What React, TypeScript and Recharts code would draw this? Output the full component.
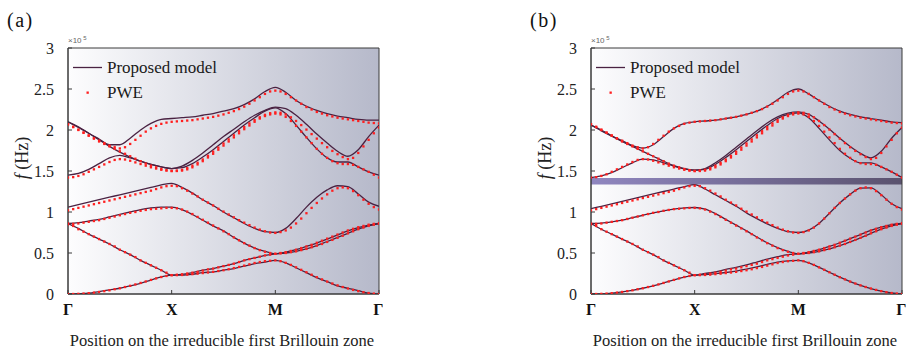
import React from 'react';
import { LineChart, Line, XAxis, YAxis, ReferenceArea, Legend } from 'recharts';

// k-path grids (Γ=0, X=1, M=2, Γ=3)
const K10 = [0, 0.1, 0.2, 0.3, 0.4, 0.5, 0.6, 0.7, 0.8, 0.9, 1.0, 1.1, 1.2, 1.3, 1.4, 1.5, 1.6, 1.7, 1.8, 1.9, 2.0, 2.1, 2.2, 2.3, 2.4, 2.5, 2.6, 2.7, 2.8, 2.9, 3.0];
const K05 = [0, 0.05, 0.1, 0.15, 0.2, 0.25, 0.3, 0.35, 0.4, 0.45, 0.5, 0.55, 0.6, 0.65, 0.7, 0.75, 0.8, 0.85, 0.9, 0.95, 1.0,
  1.05, 1.1, 1.15, 1.2, 1.25, 1.3, 1.35, 1.4, 1.45, 1.5, 1.55, 1.6, 1.65, 1.7, 1.75, 1.8, 1.85, 1.9, 1.95, 2.0,
  2.05, 2.1, 2.15, 2.2, 2.25, 2.3, 2.35, 2.4, 2.45, 2.5, 2.55, 2.6, 2.65, 2.7, 2.75, 2.8, 2.85, 2.9, 2.95, 3.0];

const K_TICKS = [0, 1, 2, 3];
const K_LABELS = ['Γ', 'X', 'M', 'Γ'];
const F_TICKS = [0, 0.5, 1, 1.5, 2, 2.5, 3];

// Proposed model, panel (a)  (×10^5 Hz)
const MA1 = [0, 0.003, 0.01, 0.03, 0.05, 0.07, 0.10, 0.13, 0.17, 0.21, 0.23, 0.23, 0.24, 0.26, 0.27, 0.29, 0.31, 0.34, 0.37, 0.39, 0.41, 0.38, 0.32, 0.26, 0.20, 0.15, 0.10, 0.07, 0.04, 0.01, 0];
const MA2 = [0.86, 0.80, 0.73, 0.67, 0.61, 0.54, 0.48, 0.41, 0.35, 0.29, 0.23, 0.24, 0.26, 0.29, 0.31, 0.34, 0.37, 0.41, 0.44, 0.47, 0.49, 0.50, 0.52, 0.55, 0.59, 0.64, 0.69, 0.74, 0.79, 0.83, 0.86];
const MA3 = [0.86, 0.87, 0.89, 0.91, 0.94, 0.97, 1.00, 1.03, 1.05, 1.06, 1.06, 1.03, 0.97, 0.90, 0.83, 0.77, 0.69, 0.62, 0.56, 0.52, 0.49, 0.51, 0.54, 0.58, 0.62, 0.67, 0.72, 0.77, 0.81, 0.84, 0.86];
const MA4 = [1.06, 1.09, 1.12, 1.15, 1.18, 1.21, 1.24, 1.27, 1.30, 1.33, 1.35, 1.30, 1.23, 1.15, 1.08, 1.00, 0.93, 0.86, 0.80, 0.76, 0.75, 0.80, 0.92, 1.06, 1.18, 1.27, 1.32, 1.31, 1.22, 1.12, 1.07];
const MA5 = [1.45, 1.47, 1.52, 1.59, 1.66, 1.69, 1.66, 1.62, 1.58, 1.55, 1.53, 1.54, 1.59, 1.67, 1.76, 1.86, 1.96, 2.06, 2.15, 2.23, 2.27, 2.20, 2.06, 1.91, 1.77, 1.66, 1.61, 1.61, 1.55, 1.49, 1.45];
const MA6 = [2.10, 2.03, 1.96, 1.88, 1.80, 1.73, 1.67, 1.62, 1.58, 1.55, 1.53, 1.56, 1.63, 1.72, 1.82, 1.92, 2.01, 2.10, 2.18, 2.24, 2.28, 2.26, 2.18, 2.07, 1.95, 1.84, 1.74, 1.68, 1.76, 1.92, 2.06];
const MA7 = [2.10, 2.04, 1.96, 1.89, 1.82, 1.82, 1.90, 2.00, 2.08, 2.13, 2.14, 2.15, 2.16, 2.18, 2.20, 2.23, 2.26, 2.31, 2.38, 2.47, 2.52, 2.46, 2.36, 2.29, 2.24, 2.20, 2.17, 2.15, 2.13, 2.12, 2.12];

// Proposed model, panel (b)
const MB1 = [0, 0.002, 0.01, 0.025, 0.045, 0.07, 0.10, 0.135, 0.172, 0.207, 0.23, 0.236, 0.248, 0.262, 0.28, 0.302, 0.33, 0.362, 0.39, 0.405, 0.41, 0.38, 0.325, 0.265, 0.205, 0.152, 0.105, 0.067, 0.035, 0.012, 0];
const MB2 = [0.86, 0.79, 0.73, 0.67, 0.61, 0.54, 0.48, 0.41, 0.35, 0.29, 0.23, 0.25, 0.27, 0.30, 0.325, 0.355, 0.39, 0.425, 0.455, 0.48, 0.49, 0.50, 0.52, 0.55, 0.59, 0.635, 0.685, 0.74, 0.79, 0.83, 0.86];
const MB3 = [0.86, 0.865, 0.88, 0.90, 0.93, 0.96, 0.99, 1.015, 1.035, 1.05, 1.055, 1.035, 0.98, 0.91, 0.84, 0.77, 0.695, 0.625, 0.565, 0.52, 0.49, 0.51, 0.54, 0.58, 0.625, 0.675, 0.725, 0.775, 0.815, 0.845, 0.86];
const MB4 = [1.04, 1.07, 1.10, 1.13, 1.16, 1.19, 1.22, 1.25, 1.28, 1.31, 1.335, 1.28, 1.21, 1.14, 1.07, 0.99, 0.92, 0.855, 0.80, 0.76, 0.75, 0.78, 0.86, 0.985, 1.11, 1.215, 1.29, 1.295, 1.21, 1.10, 1.04];
const MB5 = [1.42, 1.44, 1.48, 1.54, 1.60, 1.645, 1.635, 1.60, 1.56, 1.525, 1.51, 1.52, 1.58, 1.665, 1.76, 1.86, 1.96, 2.055, 2.14, 2.19, 2.21, 2.15, 2.02, 1.88, 1.75, 1.655, 1.60, 1.60, 1.55, 1.49, 1.42];
const MB6 = [2.06, 1.99, 1.925, 1.86, 1.80, 1.74, 1.68, 1.62, 1.565, 1.53, 1.51, 1.53, 1.60, 1.69, 1.79, 1.89, 1.99, 2.085, 2.16, 2.205, 2.22, 2.19, 2.11, 2.01, 1.90, 1.80, 1.715, 1.66, 1.74, 1.90, 2.03];
const MB7 = [2.06, 2.0, 1.93, 1.87, 1.81, 1.78, 1.82, 1.92, 2.02, 2.08, 2.10, 2.11, 2.12, 2.14, 2.16, 2.19, 2.23, 2.29, 2.37, 2.46, 2.50, 2.44, 2.36, 2.29, 2.23, 2.19, 2.16, 2.14, 2.12, 2.10, 2.09];

// PWE reference (same in both panels)
const P1 = [0, 0, 0.002, 0.005, 0.01, 0.017, 0.025, 0.035, 0.045, 0.058, 0.07, 0.085, 0.10, 0.117, 0.135, 0.153, 0.172, 0.19, 0.207, 0.22, 0.23,
  0.23, 0.232, 0.236, 0.242, 0.248, 0.255, 0.262, 0.27, 0.28, 0.29, 0.302, 0.316, 0.33, 0.346, 0.362, 0.378, 0.39, 0.40, 0.405, 0.41,
  0.40, 0.38, 0.355, 0.325, 0.295, 0.265, 0.235, 0.205, 0.178, 0.152, 0.128, 0.105, 0.085, 0.067, 0.05, 0.035, 0.022, 0.012, 0.005, 0];
const P2 = [0.86, 0.83, 0.79, 0.76, 0.73, 0.70, 0.67, 0.64, 0.61, 0.58, 0.54, 0.51, 0.48, 0.45, 0.41, 0.38, 0.35, 0.32, 0.29, 0.26, 0.23,
  0.235, 0.24, 0.25, 0.26, 0.27, 0.285, 0.30, 0.31, 0.325, 0.34, 0.355, 0.37, 0.39, 0.41, 0.425, 0.44, 0.455, 0.47, 0.48, 0.49,
  0.495, 0.50, 0.51, 0.52, 0.535, 0.55, 0.57, 0.59, 0.61, 0.635, 0.66, 0.685, 0.71, 0.74, 0.765, 0.79, 0.81, 0.83, 0.845, 0.86];
const P3 = [0.85, 0.855, 0.86, 0.87, 0.88, 0.89, 0.90, 0.915, 0.93, 0.945, 0.96, 0.975, 0.99, 1.00, 1.015, 1.025, 1.035, 1.04, 1.045, 1.05, 1.05,
  1.045, 1.03, 1.005, 0.975, 0.94, 0.905, 0.87, 0.835, 0.80, 0.765, 0.73, 0.69, 0.655, 0.62, 0.59, 0.56, 0.535, 0.515, 0.50, 0.49,
  0.50, 0.51, 0.525, 0.54, 0.56, 0.58, 0.60, 0.625, 0.65, 0.675, 0.70, 0.725, 0.75, 0.775, 0.795, 0.815, 0.83, 0.845, 0.855, 0.86];
const P4 = [1.02, 1.035, 1.05, 1.065, 1.08, 1.095, 1.11, 1.125, 1.14, 1.155, 1.17, 1.185, 1.20, 1.215, 1.23, 1.245, 1.26, 1.28, 1.30, 1.315, 1.32,
  1.315, 1.29, 1.26, 1.225, 1.19, 1.15, 1.115, 1.08, 1.04, 1.005, 0.97, 0.935, 0.90, 0.87, 0.84, 0.81, 0.785, 0.765, 0.75, 0.745,
  0.755, 0.775, 0.81, 0.86, 0.92, 0.985, 1.05, 1.11, 1.165, 1.215, 1.26, 1.29, 1.30, 1.29, 1.255, 1.205, 1.15, 1.10, 1.06, 1.03];
const P5 = [1.42, 1.425, 1.44, 1.46, 1.49, 1.52, 1.55, 1.58, 1.61, 1.635, 1.645, 1.64, 1.625, 1.605, 1.585, 1.565, 1.545, 1.53, 1.515, 1.505, 1.50,
  1.50, 1.505, 1.52, 1.545, 1.58, 1.62, 1.665, 1.71, 1.76, 1.81, 1.86, 1.91, 1.96, 2.01, 2.055, 2.10, 2.14, 2.17, 2.19, 2.20,
  2.19, 2.16, 2.11, 2.05, 1.98, 1.91, 1.84, 1.77, 1.71, 1.66, 1.62, 1.595, 1.585, 1.585, 1.575, 1.55, 1.52, 1.49, 1.455, 1.42];
const P6 = [2.07, 2.035, 2.0, 1.965, 1.93, 1.895, 1.86, 1.83, 1.80, 1.77, 1.74, 1.71, 1.68, 1.65, 1.62, 1.59, 1.565, 1.545, 1.525, 1.51, 1.50,
  1.505, 1.515, 1.535, 1.565, 1.60, 1.64, 1.685, 1.735, 1.785, 1.835, 1.885, 1.935, 1.985, 2.035, 2.08, 2.12, 2.155, 2.185, 2.205, 2.215,
  2.21, 2.19, 2.155, 2.11, 2.06, 2.005, 1.95, 1.895, 1.84, 1.79, 1.745, 1.705, 1.67, 1.645, 1.66, 1.72, 1.80, 1.88, 1.96, 2.03];
const P7 = [2.07, 2.04, 2.005, 1.97, 1.935, 1.90, 1.87, 1.84, 1.81, 1.79, 1.775, 1.79, 1.83, 1.88, 1.93, 1.98, 2.02, 2.05, 2.075, 2.09, 2.10,
  2.105, 2.11, 2.115, 2.12, 2.13, 2.14, 2.15, 2.16, 2.175, 2.19, 2.21, 2.23, 2.255, 2.285, 2.32, 2.36, 2.40, 2.44, 2.47, 2.48,
  2.47, 2.44, 2.40, 2.36, 2.32, 2.28, 2.25, 2.22, 2.20, 2.18, 2.165, 2.15, 2.14, 2.13, 2.12, 2.11, 2.10, 2.09, 2.085, 2.08];

// band gap shown in panel (b)
const GAP_B = [1.335, 1.415];

const MODEL_A = [MA1, MA2, MA3, MA4, MA5, MA6, MA7];
const MODEL_B = [MB1, MB2, MB3, MB4, MB5, MB6, MB7];
const PWE = [P1, P2, P3, P4, P5, P6, P7];

const SERIF = '"Liberation Serif", "Times New Roman", serif';
const LINE_COLOR = '#4a2242';
const DOT_COLOR = '#ff1f1f';

const rows = (ks: number[], fs: number[]) => ks.map((k, i) => ({ k, f: fs[i] }));

const pweDot = (p: any) => (
  <rect key={`d${p.index}`} x={p.cx - 1.15} y={p.cy - 1.15} width={2.3} height={2.3} fill={DOT_COLOR} />
);

function YLab({ letter }: { letter: string }) {
  return (
    <g>
      <text x={7} y={27} fontFamily={SERIF} fontSize={20} letterSpacing={1.5} fill="#111">({letter})</text>
      <text x={68} y={43} fontFamily='"Liberation Sans", sans-serif' fontSize={8} fill="#666">
        ×10<tspan dy={-3} fontSize={6}> 5</tspan>
      </text>
      <text transform="translate(22,158) rotate(-90)" textAnchor="middle" dominantBaseline="central"
        fontFamily={SERIF} fontSize={18} fill="#222">
        <tspan fontStyle="italic">f</tspan> (Hz)
      </text>
    </g>
  );
}

function XLab() {
  return (
    <text x={222} y={346} textAnchor="middle" fontFamily={SERIF} fontSize={16.5} fill="#222">
      Position on the irreducible first Brillouin zone
    </text>
  );
}

function LegendBox() {
  return (
    <div style={{ fontFamily: SERIF, fontSize: 17, color: '#1a1a1a', lineHeight: '25px' }}>
      <div style={{ display: 'flex', alignItems: 'center', height: 25 }}>
        <svg width={34} height={25}><line x1={0} x2={29} y1={12.5} y2={12.5} stroke={LINE_COLOR} strokeWidth={1.3} /></svg>
        <span>Proposed model</span>
      </div>
      <div style={{ display: 'flex', alignItems: 'center', height: 25 }}>
        <svg width={34} height={25}><rect x={13.5} y={11.5} width={2.3} height={2.3} fill={DOT_COLOR} /></svg>
        <span>PWE</span>
      </div>
    </div>
  );
}

function Panel({ letter, model, gradId, gap }: { letter: string; model: number[][]; gradId: string; gap?: number[] }) {
  const axisStroke = '#3a3a3a';
  return (
    <LineChart width={383} height={354} margin={{ top: 48, right: 4, bottom: 4, left: 12 }}>
      <defs>
        <linearGradient id={gradId} x1="0" y1="0" x2="1" y2="0">
          <stop offset="0%" stopColor="#fdfdfe" />
          <stop offset="100%" stopColor="#b6b9ca" />
        </linearGradient>
        <linearGradient id={gradId + 'gap'} x1="0" y1="0" x2="1" y2="0">
          <stop offset="0%" stopColor="#9087c0" />
          <stop offset="100%" stopColor="#5a526e" />
        </linearGradient>
      </defs>
      <XAxis xAxisId={0} type="number" dataKey="k" domain={[0, 3]} ticks={K_TICKS} allowDataOverflow
        tickFormatter={(v: number) => K_LABELS[K_TICKS.indexOf(v)]} tickSize={-4} tickMargin={14} height={56}
        stroke={axisStroke} tick={{ fontFamily: SERIF, fontSize: 16, fontWeight: 700, fill: '#111' }}
        label={<XLab />} />
      <XAxis xAxisId="t" orientation="top" type="number" domain={[0, 3]} ticks={K_TICKS} allowDataOverflow
        tickFormatter={() => ''} tickSize={-4} height={0} stroke={axisStroke} />
      <YAxis yAxisId={0} type="number" domain={[0, 3]} ticks={F_TICKS} allowDataOverflow
        tickSize={-4} tickMargin={18} width={56} stroke={axisStroke}
        tick={{ fontFamily: SERIF, fontSize: 16, fill: '#222' }} label={<YLab letter={letter} />} />
      <YAxis yAxisId="r" orientation="right" type="number" domain={[0, 3]} ticks={F_TICKS} allowDataOverflow
        tickFormatter={() => ''} tickSize={-4} width={0} stroke={axisStroke} />
      <ReferenceArea x1={0} x2={3} y1={0} y2={3} fill={`url(#${gradId})`} fillOpacity={1} stroke="none" />
      {gap && (
        <ReferenceArea x1={0} x2={3} y1={gap[0]} y2={gap[1]} fill={`url(#${gradId}gap)`} fillOpacity={1} stroke="none" />
      )}
      {model.map((arr, i) => (
        <Line key={`m${i}`} data={rows(K10, arr)} dataKey="f" type="monotone" stroke={LINE_COLOR} strokeWidth={1.3}
          dot={false} activeDot={false} isAnimationActive={false} legendType="none" />
      ))}
      {PWE.map((arr, i) => (
        <Line key={`p${i}`} data={rows(K05, arr)} dataKey="f" stroke="none" dot={pweDot} activeDot={false}
          isAnimationActive={false} legendType="none" />
      ))}
      <ReferenceArea x1={0} x2={3} y1={0} y2={3} fill="none" stroke={axisStroke} strokeWidth={1} />
      <Legend layout="vertical" align="center" verticalAlign="middle"
        wrapperStyle={{ left: 73, top: 54.5, width: 200, height: 50 }} content={() => <LegendBox />} />
    </LineChart>
  );
}

export default function App() {
  return (
    <div style={{ position: 'absolute', left: 0, top: 0, width: 906, height: 354, background: '#fff' }}>
      <div style={{ position: 'absolute', left: 0, top: 0 }}>
        <Panel letter="a" model={MODEL_A} gradId="bgA" />
      </div>
      <div style={{ position: 'absolute', left: 523, top: 0 }}>
        <Panel letter="b" model={MODEL_B} gradId="bgB" gap={GAP_B} />
      </div>
    </div>
  );
}
